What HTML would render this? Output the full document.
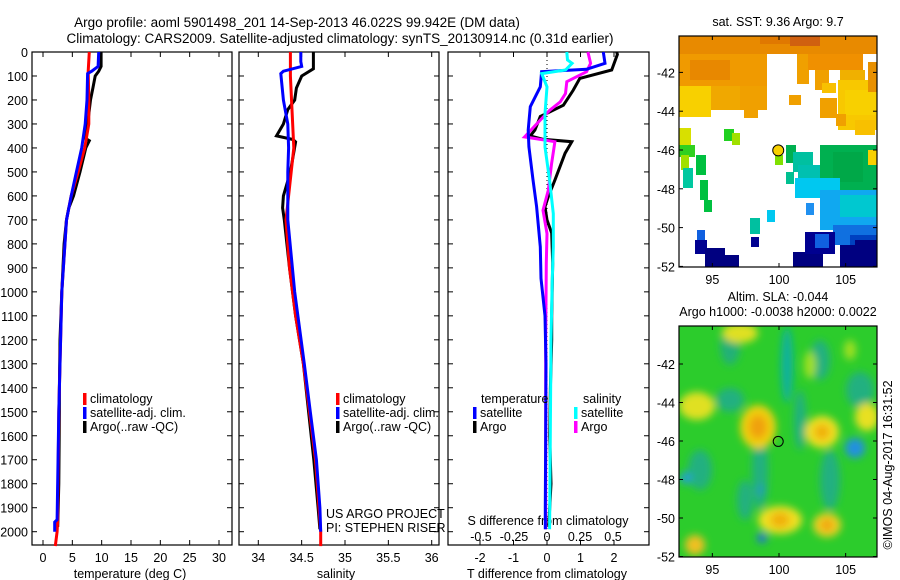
<!DOCTYPE html>
<html><head><meta charset="utf-8">
<style>
html,body{margin:0;padding:0;background:#fff;}
svg{display:block;font-family:"Liberation Sans",sans-serif;}
</style></head>
<body>
<svg id="fig" width="900" height="580" viewBox="0 0 900 580" xmlns="http://www.w3.org/2000/svg">
<defs>
<filter id="blur" x="-50%" y="-50%" width="200%" height="200%"><feGaussianBlur stdDeviation="4"/></filter>
<clipPath id="clipSla"><rect x="679" y="326" width="198" height="231"/></clipPath>
</defs>
<g id="layer"></g>
</svg>
<script>
// ---- data ----
const depthTicks = [0,100,200,300,400,500,600,700,800,900,1000,1100,1200,1300,1400,1500,1600,1700,1800,1900,2000];
const tempTicks = [0,5,10,15,20,25,30];
const salTicks = [34,34.5,35,35.5,36];
const salTickLabels = ["34","34.5","35","35.5","36"];
const dTTicks = [-2,-1,0,1,2];
const dSTicks = [-0.5,-0.25,0,0.25,0.5];
const dSTickLabels = ["-0.5","-0.25","0","0.25","0.5"];

const tArgoDepth = [0,60,80,100,150,200,300,360,370,400,500,600,650,700,800,1000,1200,1400,1500,1800,1980];
const tArgo      = [9.9,9.9,9.5,8.9,8.5,8.1,7.6,7.2,7.9,7.3,6.3,5.2,4.4,4.0,3.6,3.2,2.9,2.8,2.8,2.7,2.5];
const tClimDepth = [0,80,200,300,400,500,600,700,1000,1500,1700,1900,1950,2000,2060];
const tClim      = [7.9,7.7,7.8,7.8,7.1,6.0,4.8,4.0,3.2,2.7,2.6,2.5,2.5,2.4,2.1];
const tSatDepth  = [0,60,80,90,200,300,400,500,600,700,1000,1500,1950,1960,2000];
const tSat       = [9.5,9.4,8.3,7.6,7.5,7.2,6.6,5.7,4.8,4.0,3.2,2.7,2.4,2.0,2.0];

const sArgoDepth = [0,70,100,150,200,240,300,350,365,375,500,600,650,700,900,1100,1300,1500,1700,1900,1990];
const sArgo      = [34.635,34.635,34.50,34.44,34.42,34.34,34.29,34.21,34.40,34.43,34.37,34.29,34.28,34.30,34.36,34.43,34.52,34.58,34.64,34.69,34.71];
const sClimDepth = [0,100,250,400,500,600,700,900,1100,1300,1500,1700,1900,2000,2060];
const sClim      = [34.37,34.37,34.39,34.41,34.38,34.35,34.32,34.36,34.43,34.52,34.59,34.66,34.70,34.72,34.72];
const sSatDepth  = [0,40,60,80,90,200,300,400,500,600,700,1000,1300,1500,1700,1900,2000];
const sSat       = [34.49,34.49,34.50,34.29,34.26,34.29,34.34,34.35,34.34,34.34,34.34,34.42,34.53,34.60,34.67,34.71,34.72];

const dTSatDepth = [0,47,72,82,145,228,325,395,530,645,812,944,1100,1300,1600,1900,1990];
const dTSat      = [1.68,1.73,1.18,-0.16,-0.2,-0.5,-0.56,-0.54,-0.42,-0.31,-0.2,-0.18,-0.06,-0.03,-0.04,-0.05,-0.05];
const dTArgoDepth = [0,10,75,110,160,222,269,325,350,364,374,422,533,603,645,700,755,880,1100,1200,1400,1600,1800,1980];
const dTArgo      = [2.08,2.1,1.93,0.98,0.78,0.49,-0.2,-0.36,-0.5,-0.12,0.74,0.54,0.24,0.04,-0.06,0.0,0.14,0.17,0.14,0.14,0.1,0.08,0.12,0.05];
const dSArgoDepth = [0,47,82,124,173,208,243,285,354,374,465,576,660,757,880,1200,1600,1990];
const dSArgo      = [0.31,0.33,0.30,0.15,0.14,0.10,0.02,-0.053,-0.17,0.06,0.035,0.01,-0.03,0.0,-0.005,-0.01,-0.01,-0.01];
const dSSatDepth = [0,33,47,75,90,145,257,396,535,674,812,944,1200,1600,1990];
const dSSat      = [0.15,0.155,0.19,0.14,-0.04,0.0,-0.015,-0.015,0.02,0.048,0.048,0.04,0.03,0.025,0.02];

const lonTicks = [95,100,105];
const latTicks = [-42,-44,-46,-48,-50,-52];
const argoLon = 99.942, argoLat = -46.022;

// ---- helpers ----
const NS = "http://www.w3.org/2000/svg";
const layer = document.getElementById('layer');
function mk(tag, attrs, parent){ const e=document.createElementNS(NS,tag); for(const k in attrs) e.setAttribute(k,attrs[k]); (parent||layer).appendChild(e); return e; }
function txt(x,y,s,anchor,size,parent){ const t=mk('text',{x:x,y:y,'font-size':size||12.5,'text-anchor':anchor||'start',fill:'#000'},parent); t.textContent=s; return t; }

const yTop=52, yScale=(531.7-52)/2000;
const yD = d => yTop + d*yScale;
const xT = v => 43 + v*(176/30);
const xS = v => 258.3 + (v-34)*86.7;
const xDT = v => 547 + v*33.5;
const xDS = v => 547 + v*132;

function frame(name,x0,x1,y0,y1){
  const r=mk('rect',{x:x0,y:y0,width:x1-x0,height:y1-y0,fill:'none',stroke:'#000','stroke-width':1.2});
  
  
}
function depthTicksOn(x0,x1,labels){
  depthTicks.forEach(d=>{
    const y=yD(d);
    mk('line',{x1:x0,y1:y,x2:x0+5,y2:y,stroke:'#000'});
    mk('line',{x1:x1,y1:y,x2:x1-5,y2:y,stroke:'#000'});
    if(labels){ const t=txt(28,y+5,String(d),'end',12.5);   }
  });
}
function series(name, xs, ds, fx, color){
  const pts = xs.map((v,i)=>fx(v).toFixed(1)+','+yD(ds[i]).toFixed(1)).join(' ');
  const p=mk('polyline',{points:pts,fill:'none',stroke:color,'stroke-width':3,'stroke-linejoin':'miter'});
  
  
}
function legendEntry(name,x,y,color,label){
  const g=mk('g',{});
  
  
  mk('rect',{x:x,y:y-10,width:3.5,height:12,fill:color},g);
  txt(x+7,y,label,'start',12.5,g);
}

// ---- titles ----
let t1=txt(297,27,'Argo profile: aoml 5901498_201 14-Sep-2013 46.022S 99.942E (DM data)','middle',13.5);
 
let t2=txt(340,43,'Climatology: CARS2009. Satellite-adjusted climatology: synTS_20130914.nc (0.31d earlier)','middle',13.5);
 

// ---- panel 1 temperature ----
const yB=545;
frame('temperature-plot-frame',32,232,yTop,yB);
depthTicksOn(32,232,true);
tempTicks.forEach(v=>{ const x=xT(v); mk('line',{x1:x,y1:yTop,x2:x,y2:yTop+5,stroke:'#000'}); mk('line',{x1:x,y1:yB,x2:x,y2:yB-5,stroke:'#000'});
  const l=txt(x,562,String(v),'middle',12.5);   });
let xl=txt(130,578,'temperature (deg C)','middle',12.5);  
series('temp-argo-line',tArgo,tArgoDepth,xT,'#000');
series('temp-climatology-line',tClim,tClimDepth,xT,'#f00');
series('temp-satellite-line',tSat,tSatDepth,xT,'#00f');
legendEntry('legend-climatology',83,403,'#f00','climatology');
legendEntry('legend-satellite-adj',83,417,'#00f','satellite-adj. clim.');
legendEntry('legend-argo',83,431,'#000','Argo(..raw -QC)');

// ---- panel 2 salinity ----
frame('salinity-plot-frame',239,439,yTop,yB);
depthTicksOn(239,439,false);
salTicks.forEach((v,i)=>{ const x=xS(v); mk('line',{x1:x,y1:yTop,x2:x,y2:yTop+5,stroke:'#000'}); mk('line',{x1:x,y1:yB,x2:x,y2:yB-5,stroke:'#000'});
  const l=txt(x,562,salTickLabels[i],'middle',12.5);   });
xl=txt(336,578,'salinity','middle',12.5);  
series('sal-argo-line',sArgo,sArgoDepth,xS,'#000');
series('sal-climatology-line',sClim,sClimDepth,xS,'#f00');
series('sal-satellite-line',sSat,sSatDepth,xS,'#00f');
legendEntry('legend-sal-climatology',336,403,'#f00','climatology');
legendEntry('legend-sal-satellite-adj',336,417,'#00f','satellite-adj. clim.');
legendEntry('legend-sal-argo',336,431,'#000','Argo(..raw -QC)');
let n1=txt(326,518,'US ARGO PROJECT','start',12.5);  
let n2=txt(326,532,'PI: STEPHEN RISER','start',12.5);  

// ---- panel 3 differences ----
frame('difference-plot-frame',448,649,yTop,yB);
depthTicksOn(448,649,false);
mk('line',{x1:xDT(0),y1:yTop,x2:xDT(0),y2:yB,stroke:'#000','stroke-dasharray':'1,3'});
dTTicks.forEach(v=>{ const x=xDT(v); mk('line',{x1:x,y1:yTop,x2:x,y2:yTop+5,stroke:'#000'}); mk('line',{x1:x,y1:yB,x2:x,y2:yB-5,stroke:'#000'});
  const l=txt(x,562,String(v),'middle',12.5);   });
dSTicks.forEach((v,i)=>{ const l=txt(xDS(v),541,dSTickLabels[i],'middle',12.5);   });
xl=txt(548,525,'S difference from climatology','middle',12.5);  
xl=txt(547,578,'T difference from climatology','middle',12.5);  
series('dt-argo-line',dTArgo,dTArgoDepth,xDT,'#000');
series('ds-argo-line',dSArgo,dSArgoDepth,xDS,'#f0f');
series('dt-satellite-line',dTSat,dTSatDepth,xDT,'#00f');
series('ds-satellite-line',dSSat,dSSatDepth,xDS,'#0ff');
let lt=txt(481,403,'temperature','start',12.5);  
let ls=txt(583,403,'salinity','start',12.5);  
legendEntry('legend-t-satellite',473,417,'#00f','satellite');
legendEntry('legend-t-argo',473,431,'#000','Argo');
legendEntry('legend-s-satellite',574,417,'#0ff','satellite');
legendEntry('legend-s-argo',574,431,'#f0f','Argo');

// ---- maps ----
const mxL=679,mxR=877;
const xLon = v => 779 + (v-100)*13.33;
const yLat1 = v => 150 + (-46 - v)*19.4;
const yLat2 = v => 441 + (-46 - v)*19.25;

// SST map
const sst=mk('g',{});


const sstPatches=[
[679,36,198,18,'#e88a00'],[790,36,30,10,'#d06010'],[760,36,30,8,'#e07800'],
[679,54,88,32,'#f09a00'],[690,60,40,20,'#e88800'],[679,86,32,31,'#f8d000'],[711,86,35,24,'#f0a800'],[740,86,27,24,'#f0a000'],[744,110,14,8,'#f0a000'],
[797,54,12,30,'#f0a000'],[808,54,55,16,'#f09000'],[815,70,14,20,'#f0a000'],[822,83,14,10,'#f8c000'],[820,98,17,20,'#f0a000'],
[840,70,25,16,'#f0b000'],[838,80,39,50,'#f8c800'],[845,90,32,25,'#f8d000'],[855,120,20,15,'#f8c000'],[868,62,9,30,'#e89000'],
[789,95,12,10,'#f0a000'],[836,114,10,12,'#f0a000'],
[679,128,12,18,'#d8e000'],[679,145,16,12,'#30d020'],[681,155,8,15,'#a0e000'],[683,168,10,20,'#00c8a0'],[696,155,10,20,'#00c040'],
[700,180,8,20,'#00c040'],[704,200,8,12,'#00c040'],[724,129,10,12,'#20d020'],[732,133,8,12,'#a0e000'],
[775,155,8,10,'#80e000'],[786,145,10,18,'#00b050'],[793,152,20,20,'#00c0a0'],[786,172,8,12,'#00c090'],
[798,165,30,20,'#00c0b0'],[820,145,57,50,'#00b050'],[833,152,30,30,'#00a848'],[795,178,45,20,'#00c8f0'],[820,190,57,40,'#10a8f0'],
[840,195,37,22,'#00c8d0'],[806,203,8,12,'#2090f0'],[767,210,8,12,'#00c8f0'],[750,218,10,16,'#00c0a0'],[751,237,8,10,'#000090'],
[833,225,44,20,'#1070e0'],[850,235,27,12,'#0040c0'],[868,150,9,15,'#f8d000'],
[697,230,8,10,'#1060e0'],[695,240,12,14,'#000090'],[705,248,20,19,'#000080'],[723,255,16,12,'#000080'],
[793,252,30,15,'#000080'],[805,232,30,22,'#000090'],[815,234,14,14,'#1060e0'],[840,245,15,22,'#000080'],[855,240,22,27,'#000080']
];
sstPatches.forEach(p=>mk('rect',{x:p[0],y:p[1],width:p[2],height:p[3],fill:p[4]},sst));
mk('circle',{cx:xLon(argoLon),cy:yLat1(argoLat),r:5.5,fill:'#f8d000',stroke:'#000','stroke-width':1},sst);
let mt=txt(778,26,'sat. SST: 9.36 Argo: 9.7','middle',12.5);  

// SLA map
const sla=mk('g',{'clip-path':'url(#clipSla)'});


mk('rect',{x:679,y:326,width:198,height:231,fill:'#2ccc2c'},sla);
const bl=mk('g',{filter:'url(#blur)'},sla);
const slaBlobs=[
[787,365,6,38,'#10b0a0'],[730,345,10,20,'#20b078'],[760,470,8,40,'#20b080'],[700,470,12,20,'#20b080'],[830,480,10,30,'#20b080'],
[730,400,14,12,'#20b080'],[860,390,14,18,'#20b080'],[820,360,10,20,'#20b080'],[800,420,6,30,'#20b080'],[745,500,8,20,'#20b080'],
[740,333,18,10,'#e0e020'],[697,406,18,14,'#e0e020'],[758,427,18,22,'#f0d010'],[758,427,9,12,'#f0a010'],
[822,432,17,16,'#f0e020'],[822,432,8,8,'#f0b010'],[867,417,12,14,'#e8e020'],[855,448,10,10,'#2090e0'],
[780,520,22,14,'#f0e020'],[780,520,10,8,'#f0b010'],[827,525,14,12,'#f0d020'],[827,525,6,6,'#f0a010'],
[695,545,10,10,'#f0c020'],[686,478,6,6,'#20a0d0'],[762,538,5,5,'#2070e0'],[761,490,5,6,'#20a0b0'],[850,350,6,10,'#a0e020'],[810,365,6,14,'#a0e020']
];
slaBlobs.forEach(b=>mk('ellipse',{cx:b[0],cy:b[1],rx:b[2],ry:b[3],fill:b[4]},bl));
mk('circle',{cx:xLon(argoLon),cy:yLat2(argoLat),r:5,fill:'none',stroke:'#000','stroke-width':1},sla);
mt=txt(778,301,'Altim. SLA: -0.044','middle',12.5);  
mt=txt(778,316,'Argo h1000: -0.0038 h2000: 0.0022','middle',12.5);  

function mapAxes(name,y0,y1,yf){
  frame(name,mxL,mxR,y0,y1);
  lonTicks.forEach(v=>{ const x=xLon(v); mk('line',{x1:x,y1:y0,x2:x,y2:y0+4,stroke:'#000'}); mk('line',{x1:x,y1:y1,x2:x,y2:y1-4,stroke:'#000'});
    const l=txt(x,y1+17,String(v),'middle',12.5);   });
  latTicks.forEach(v=>{ const y=yf(v); if(y<y0-1||y>y1+1) return; mk('line',{x1:mxL,y1:y,x2:mxL+4,y2:y,stroke:'#000'}); mk('line',{x1:mxR,y1:y,x2:mxR-4,y2:y,stroke:'#000'});
    const l=txt(675,y+5,String(v),'end',12.5);   });
}
mapAxes('sst-map-frame',36,267,yLat1);
mapAxes('sla-map-frame',326,557,yLat2);

let stamp=txt(0,0,'©IMOS 04-Aug-2017 16:31:52','middle',12.5);
stamp.setAttribute('transform','translate(892,465) rotate(-90)');


</script>
</body></html>
